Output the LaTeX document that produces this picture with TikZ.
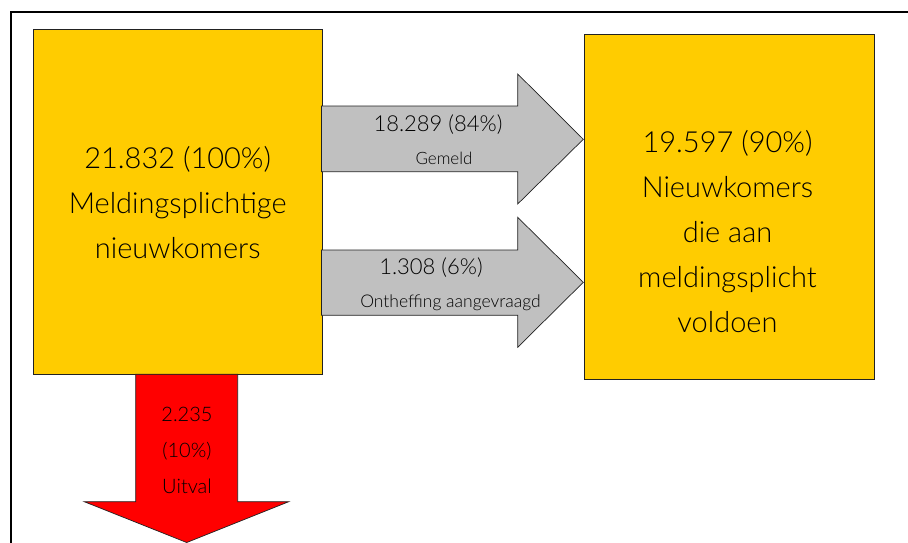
\documentclass[tikz,border=0pt]{standalone}
\usepackage{fontspec}
\setmainfont{Lato}[UprightFont=* Light]
\definecolor{boxyellow}{HTML}{FFCC00}
\definecolor{arrowgrey}{HTML}{C0C0C0}
\definecolor{outline}{HTML}{222222}
\begin{document}
\begin{tikzpicture}[x=1pt,y=-1pt,
  yellowbox/.style={draw=outline,line width=0.9pt,fill=boxyellow},
  greyarrow/.style={draw=outline,line width=0.7pt,fill=arrowgrey},
  redarrow/.style={draw=outline,line width=0.7pt,fill=red},
  bigtext/.style={align=center,inner sep=0pt,font=\fontsize{29}{45}\selectfont},
  numtext/.style={inner sep=0pt,font=\fontsize{22}{26}\selectfont},
  smalltext/.style={inner sep=0pt,font=\fontsize{17}{20}\selectfont},
  downtext/.style={align=center,inner sep=0pt,font=\fontsize{20}{36}\selectfont}]
\useasboundingbox (0,0) rectangle (908,543);
\begin{scope}
\clip (0,0) rectangle (908,543);
% outer frame
\draw[line width=2pt] (11.3,600) -- (11.3,12.3) -- (960,12.3);
% boxes
\draw[yellowbox] (33,29) rectangle (322.5,374.3);
\draw[yellowbox] (584.3,34.3) rectangle (874,379);
% arrow 1
\draw[greyarrow] (321.5,106) coordinate (a1) -- (517.7,106) -- (517.7,74) -- (583.3,139.3) coordinate (a1tip) -- (517.7,204) -- (517.7,171.7) -- (321.5,171.7) -- cycle;
% arrow 2
\draw[greyarrow] (321.5,250) coordinate (a2) -- (517.7,250) -- (517.7,217.3) -- (583.3,282.3) coordinate (a2tip) -- (517.7,347.3) -- (517.7,315.3) -- (321.5,315.3) -- cycle;
% down arrow
\draw[redarrow] (135.7,374.3) coordinate (d1) -- (237.7,374.3) -- (237.7,501.7) -- (288.7,501.7) -- (186.7,542.5) coordinate (dtip) -- (84.3,501.7) -- (135.7,501.7) -- cycle;
\end{scope}
% texts
\node[bigtext] (ltext) at (177.7,203) {21.832 (100\%)\\Meldingsplichtige\\nieuwkomers};
\node[bigtext] (rtext) at (727.5,231.5) {19.597 (90\%)\\Nieuwkomers\\die aan\\meldingsplicht\\voldoen};
\node[numtext] (n1) at (438,124.5) {18.289 (84\%)};
\node[smalltext] (g1) at (444,158.5) {Gemeld};
\node[numtext] (n2) at (431,267.5) {1.308 (6\%)};
\node[smalltext,font=\fontsize{17.5}{20}\selectfont] (g2) at (450.5,302.5) {Ontheffing aangevraagd};
\node[downtext] (dtext) at (187,450) {2.235\\(10\%)\\Uitval};
\end{tikzpicture}
\end{document}
